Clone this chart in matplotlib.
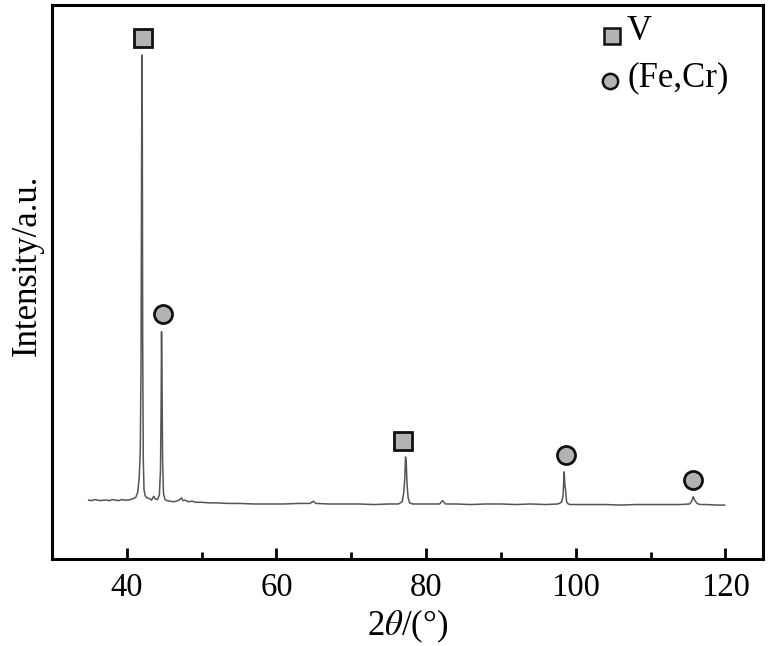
import matplotlib
matplotlib.use("Agg")
import matplotlib.pyplot as plt
from matplotlib.ticker import MultipleLocator, NullLocator

plt.rcParams['font.family'] = ['Liberation Serif', 'DejaVu Serif']
plt.rcParams['mathtext.fontset'] = 'stix'

# XRD profile (2theta in degrees, intensity in a.u.)
two_theta = [34.9, 35.3, 35.7, 36.1, 36.5, 36.9, 37.3, 37.7, 38.1, 38.5, 38.9, 39.3,
             39.7, 40.1, 40.5, 40.9, 41.2, 41.45, 41.65, 41.8, 41.9, 41.97, 42.02,
             42.07, 42.12, 42.2, 42.3, 42.45, 42.7, 43.0, 43.3, 43.6, 43.8, 44.1,
             44.35, 44.5, 44.58, 44.64, 44.7, 44.78, 44.9, 45.1, 45.4, 45.8, 46.2,
             46.6, 47.0, 47.3, 47.5, 47.8, 48.2, 48.7, 49.3, 50.0, 51.0, 52.0, 53.5,
             55.0, 57.0, 59.0, 61.0, 63.0, 64.5, 64.9, 65.3, 67.0, 69.0, 71.0, 73.0,
             75.0, 76.3, 76.8, 77.0, 77.15, 77.25, 77.35, 77.45, 77.6, 77.8, 78.2,
             79.0, 80.5, 81.8, 82.2, 82.6, 84.0, 86.0, 88.0, 90.0, 92.0, 94.0, 96.0,
             97.6, 98.1, 98.3, 98.45, 98.55, 98.65, 98.75, 98.85, 99.0, 99.3, 100.0,
             102.0, 104.0, 106.0, 108.0, 110.0, 112.0, 114.0, 115.2, 115.5, 115.7,
             115.9, 116.2, 116.6, 117.5, 119.0, 119.9]
intensity = [10.6, 10.5, 10.7, 10.6, 10.5, 10.6, 10.6, 10.5, 10.7, 10.6, 10.5, 10.7,
             10.6, 10.6, 10.7, 10.9, 11.1, 12.0, 14.5, 19.5, 35.0, 70.0, 91.0,
             78.0, 40.0, 18.0, 12.5, 11.4, 11.0, 10.9, 10.6, 11.3, 10.8, 10.7,
             11.5, 16.0, 27.0, 41.0, 33.0, 18.0, 11.8, 10.7, 10.5, 10.4, 10.3,
             10.4, 10.6, 11.0, 10.5, 10.6, 10.3, 10.4, 10.2, 10.2, 10.1, 10.1, 10.0,
             10.0, 9.9, 9.9, 9.9, 10.0, 10.0, 10.4, 10.0, 9.9, 9.9, 9.9, 9.8,
             9.9, 9.9, 10.3, 11.8, 14.5, 18.4, 17.2, 13.5, 11.0, 10.1, 9.9,
             9.9, 9.9, 9.9, 10.5, 9.9, 9.9, 9.8, 9.9, 9.9, 9.8, 9.9, 9.8,
             9.9, 10.2, 11.3, 15.7, 13.2, 12.4, 10.6, 10.1, 9.9, 9.8, 9.8,
             9.8, 9.8, 9.7, 9.8, 9.8, 9.8, 9.8, 9.9, 10.4, 11.2,
             10.6, 10.0, 9.8, 9.8, 9.7, 9.7]

# phase markers above the peaks
v_x = [42.15, 76.9]
v_y = [94.0, 21.3]
fecr_x = [44.8, 98.7, 115.7]
fecr_y = [44.2, 18.8, 14.3]

fig = plt.figure(figsize=(7.76, 6.46), dpi=100)
ax = fig.add_axes([0.067, 0.135, 0.916, 0.857])

ax.plot(two_theta, intensity, color='#555555', lw=1.1)
ax.plot(v_x, v_y, ls='none', marker='s', ms=13, mfc='#b3b3b3', mec='#111111', mew=2)
ax.plot(fecr_x, fecr_y, ls='none', marker='o', ms=13, mfc='#b3b3b3', mec='#111111', mew=2)

# legend drawn by hand in axes coordinates
ax.plot([0.788], [0.944], transform=ax.transAxes, marker='s', ms=11, mfc='#b3b3b3',
        mec='#111111', mew=1.8, ls='none', clip_on=False)
ax.text(0.809, 0.952, 'V', transform=ax.transAxes, fontsize=25, va='center', ha='left')
ax.plot([0.785], [0.863], transform=ax.transAxes, marker='o', ms=11, mfc='#b3b3b3',
        mec='#111111', mew=1.8, ls='none', clip_on=False)
ax.text(0.809, 0.868, '(Fe,Cr)', transform=ax.transAxes, fontsize=25, va='center', ha='left')

ax.set_xlim(30, 125)
ax.set_ylim(0, 100)
ax.xaxis.set_major_locator(MultipleLocator(20))
ax.xaxis.set_minor_locator(MultipleLocator(10))
ax.yaxis.set_major_locator(NullLocator())
ax.tick_params(axis='x', which='major', direction='in', length=8, width=2, labelsize=23.5, pad=10)
ax.tick_params(axis='x', which='minor', direction='in', length=5, width=2)
ax.set_xticks([40, 60, 80, 100, 120])
for s in ax.spines.values():
    s.set_linewidth(2.2)

ax.set_xlabel(r'2$\theta$/(°)', fontsize=25, labelpad=3)
ax.set_ylabel('Intensity/a.u.', fontsize=25)
ax.yaxis.set_label_coords(-0.012, 0.53)

fig.savefig('out.png', dpi=100)
